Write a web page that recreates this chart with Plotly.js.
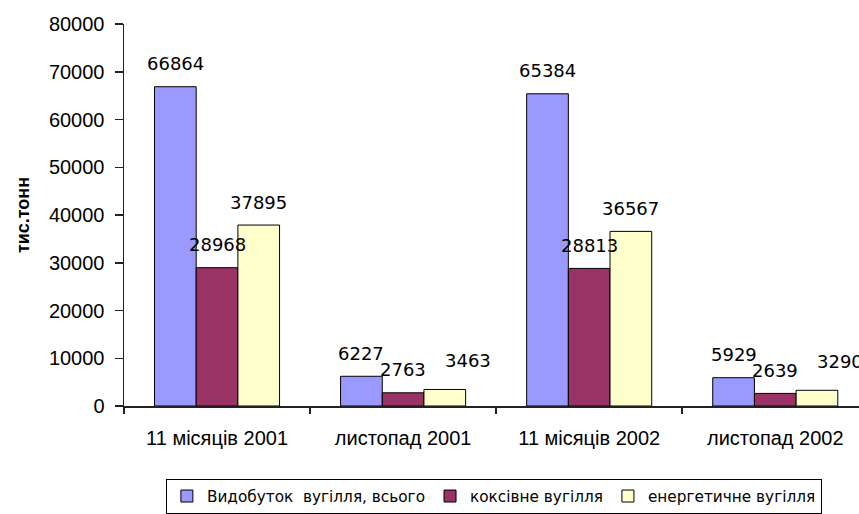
<!DOCTYPE html>
<html><head><meta charset="utf-8">
<script src="https://cdn.plot.ly/plotly-3.0.1.min.js"></script>
<style>html,body{margin:0;padding:0;background:#fff}#chart{width:859px;height:514px}</style>
</head><body><div id="chart"></div>
<script>
const categories = ['11 місяців 2001', 'листопад 2001', '11 місяців 2002', 'листопад 2002'];
const seriesNames = ['Видобуток\u00a0 вугілля, всього', 'коксівне вугілля', 'енергетичне вугілля'];
const totalCoal = [66864, 6227, 65384, 5929];
const cokingCoal = [28968, 2763, 28813, 2639];
const steamCoal = [37895, 3463, 36567, 3290];
const yTicks = [0, 10000, 20000, 30000, 40000, 50000, 60000, 70000, 80000];

const seriesValues = [totalCoal, cokingCoal, steamCoal];
const seriesColors = ['#9999FF', '#993366', '#FFFFCC'];
const BARGAP = 0.328;
const barW = (1 - BARGAP) / 3;

const traces = seriesValues.map((vals, s) => ({
  type: 'bar',
  name: seriesNames[s],
  x: categories,
  y: vals,
  marker: {color: seriesColors[s], line: {color: '#000', width: 1}},
  hoverinfo: 'skip'
}));

const annotations = [];
seriesValues.forEach((vals, s) => {
  vals.forEach((v, i) => {
    const small = (s === 2 && v < 10000);
    annotations.push({
      xref: 'x', yref: 'y',
      x: i + (s - 1) * barW,
      y: v,
      text: String(v),
      showarrow: false,
      xanchor: small ? 'left' : 'center',
      yanchor: 'middle',
      xshift: small ? -2 : 0,
      yshift: small ? 29 : 23,
      font: {family: 'DejaVu Sans', size: 18, color: '#000'}
    });
  });
});

const axisFont = {family: 'Liberation Sans, Arial, sans-serif', size: 20, color: '#000'};

const layout = {
  width: 859, height: 514,
  margin: {l: 124, r: 0, t: 24, b: 105, pad: 0},
  paper_bgcolor: '#fff', plot_bgcolor: '#fff',
  barmode: 'group', bargap: BARGAP, bargroupgap: 0,
  showlegend: true,
  xaxis: {
    type: 'category', range: [-0.5, 3.45],
    showline: true, linecolor: '#222', linewidth: 1.5,
    ticks: 'outside', tickson: 'boundaries', ticklen: 6, tickwidth: 1.5, tickcolor: '#222',
    tickfont: axisFont, showgrid: false, zeroline: false, ticklabelstandoff: 13,
    fixedrange: true
  },
  yaxis: {
    range: [0, 80000], tickvals: yTicks, tickformat: 'd',
    showline: true, linecolor: '#222', linewidth: 1.5,
    ticks: 'outside', ticklen: 8, tickwidth: 1.5, tickcolor: '#222',
    tickfont: axisFont, showgrid: false, zeroline: false, ticklabelstandoff: 6,
    title: {text: 'тис.тонн', font: {family: 'Liberation Sans, Arial, sans-serif', size: 18, weight: 'bold', color: '#000'}, standoff: 14},
    fixedrange: true
  },
  legend: {
    orientation: 'h', x: 0.057, xanchor: 'left', y: -0.19, yanchor: 'top',
    bordercolor: '#000', borderwidth: 1, bgcolor: '#fff',
    font: {family: 'DejaVu Sans', size: 15.3, color: '#000'},
    traceorder: 'normal'
  },
  annotations: annotations
};

Plotly.newPlot('chart', traces, layout, {displayModeBar: false, staticPlot: true});
</script>
</body></html>
